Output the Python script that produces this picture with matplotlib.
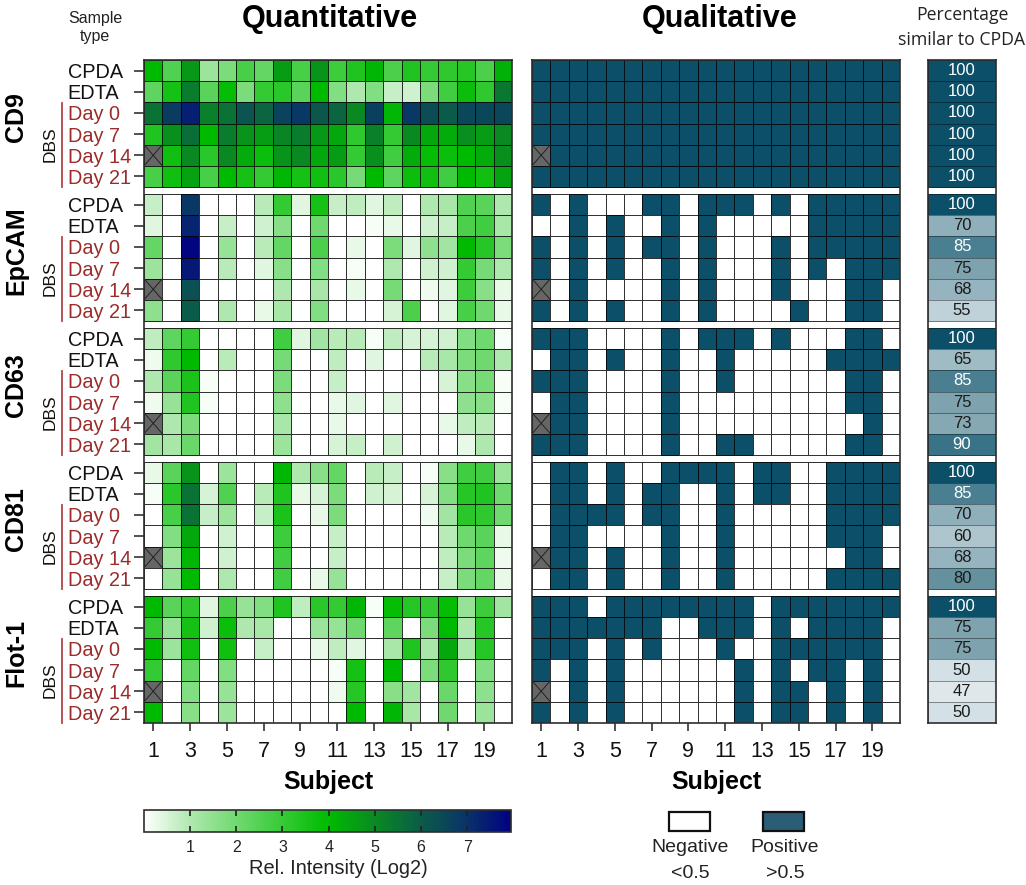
import numpy as np
import matplotlib
matplotlib.use("Agg")
import matplotlib.pyplot as plt
from matplotlib.cm import ScalarMappable
from matplotlib.colors import LinearSegmentedColormap, Normalize
from matplotlib.patches import Rectangle
from matplotlib.transforms import blended_transform_factory

plt.rcParams['font.family'] = ['Liberation Sans', 'DejaVu Sans']

nan = float('nan')
markers = ['CD9', 'EpCAM', 'CD63', 'CD81', 'Flot-1']
sample_labels = ['CPDA', 'EDTA', 'Day 0', 'Day 7', 'Day 14', 'Day 21']
subject_ticks = [1, 3, 5, 7, 9, 11, 13, 15, 17, 19]

cd9_quant = [
    [4.0, 2.5, 4.7, 1.3, 1.8, 2.7, 2.2, 4.6, 2.7, 4.8, 2.9, 3.4, 4.1, 2.6, 3.4, 3.0, 3.1, 3.3, 2.6, 4.2],
    [2.3, 3.6, 5.3, 2.4, 3.9, 1.8, 3.0, 3.2, 2.4, 4.0, 1.7, 1.0, 1.7, 0.7, 0.6, 1.8, 2.8, 3.8, 3.1, 5.4],
    [5.5, 6.8, 7.4, 5.2, 5.5, 6.2, 5.8, 6.6, 6.9, 6.1, 5.8, 5.0, 6.7, 4.1, 6.9, 6.4, 6.0, 6.5, 6.5, 6.5],
    [3.4, 4.9, 5.6, 4.0, 5.3, 4.8, 4.6, 5.1, 5.3, 4.7, 4.4, 3.1, 5.2, 3.0, 5.0, 4.4, 4.3, 4.9, 4.6, 5.0],
    [nan, 3.7, 5.0, 3.2, 5.0, 4.3, 3.8, 4.8, 5.0, 4.4, 4.6, 3.0, 4.9, 2.8, 4.3, 3.9, 3.8, 4.0, 4.3, 4.9],
    [2.7, 3.7, 4.5, 2.7, 4.0, 3.6, 3.0, 4.1, 3.6, 3.7, 3.2, 1.9, 4.0, 2.3, 3.8, 3.7, 2.8, 4.0, 3.7, 4.5],
]
epcam_quant = [
    [0.7, 0, 6.9, 0, 0, 0, 0.9, 3.0, 0.4, 3.6, 0.7, 0.8, 0.4, 0.8, 0, 1.0, 1.1, 2.5, 2.4, 1.0],
    [0.4, 0, 7.3, 0, 0.7, 0, 0.6, 1.6, 0, 2.0, 0, 0, 0.1, 0.3, 0, 0.6, 0.7, 2.6, 2.8, 1.1],
    [2.2, 0, 7.9, 0, 1.4, 0, 0.9, 2.2, 0, 2.6, 0, 0.3, 0, 1.8, 0.4, 1.5, 1.2, 4.0, 3.3, 1.8],
    [1.3, 0, 7.5, 0, 0.9, 0, 0.4, 1.6, 0, 1.7, 0, 0.1, 0, 1.0, 0, 0.6, 0.6, 3.0, 1.9, 1.0],
    [nan, 0, 6.3, 0, 0, 0, 0, 1.0, 0, 1.1, 0, 0.3, 0, 1.9, 0, 0.2, 0.4, 2.9, 1.6, 0.3],
    [1.5, 0, 6.0, 0, 1.0, 0, 0.3, 1.1, 0, 1.7, 0, 0, 0, 0.5, 2.6, 0, 0.4, 2.7, 2.0, 0.3],
]
cd63_quant = [
    [0.8, 2.3, 3.0, 0, 0, 0, 0, 2.8, 0.4, 1.2, 0.9, 0.9, 0.1, 0.8, 0.5, 0.5, 0.6, 1.7, 2.0, 0.1],
    [0.2, 3.1, 4.0, 0, 0.9, 0, 0, 1.9, 0, 0, 0.8, 0, 0.4, 0, 0, 0.9, 1.1, 1.8, 2.0, 1.0],
    [1.0, 2.4, 3.5, 0.1, 0, 0, 0, 1.8, 0, 0, 0.7, 0, 0, 0, 0, 0, 0.5, 1.6, 1.9, 0.1],
    [0.2, 1.4, 3.4, 0.1, 0, 0, 0, 1.5, 0, 0, 0.3, 0.4, 0, 0.4, 0, 0, 0, 1.5, 1.6, 0.1],
    [nan, 1.0, 1.8, 0, 0, 0, 0, 1.1, 0, 0, 0.3, 0, 0, 0, 0, 0, 0.3, 0.8, 0.9, 0],
    [1.2, 1.1, 2.1, 0, 0, 0, 0, 1.3, 0, 0, 0.5, 0.7, 0, 0.6, 0, 0, 0, 0.3, 1.0, 0],
]
cd81_quant = [
    [0.3, 2.4, 4.8, 0, 1.3, 0, 0, 4.1, 1.0, 1.6, 2.2, 0, 0.9, 0.7, 0, 0.1, 1.6, 2.8, 2.8, 1.3],
    [0.1, 3.2, 5.5, 0.5, 2.5, 0, 0.9, 3.4, 0.3, 0.5, 1.8, 0, 0.6, 0.5, 0, 0.5, 1.7, 3.3, 3.4, 2.0],
    [0, 2.7, 5.5, 0.7, 1.3, 0, 0.7, 3.5, 0, 0.3, 1.8, 0, 0, 0, 0, 0.2, 1.2, 3.2, 3.1, 2.0],
    [0, 1.7, 4.4, 0, 0.6, 0, 0, 2.9, 0, 0, 0.7, 0, 0, 0, 0, 0, 0.9, 2.0, 2.4, 0.3],
    [nan, 1.3, 4.1, 0, 0.6, 0, 0, 2.8, 0, 0, 0.7, 0, 0, 0, 0, 0, 0.8, 1.8, 2.3, 0.2],
    [0, 1.4, 4.0, 0, 1.0, 0, 0, 2.8, 0, 0.3, 1.4, 0, 0, 0, 0, 0, 0.7, 1.8, 2.2, 0.3],
]
flot1_quant = [
    [4.0, 2.4, 3.1, 0.4, 2.6, 1.4, 1.7, 3.4, 0.8, 3.2, 3.0, 4.1, 0.1, 3.9, 3.3, 3.0, 3.9, 1.4, 2.9, 1.2],
    [3.0, 1.4, 3.6, 0.6, 3.8, 1.0, 1.1, 0, 0, 1.3, 1.4, 2.0, 0, 2.3, 0, 1.8, 4.0, 1.0, 3.3, 0],
    [4.0, 1.3, 3.7, 0, 3.7, 0, 0.7, 0, 0, 0.3, 0.8, 0.4, 0, 1.1, 3.4, 1.1, 4.4, 1.0, 3.3, 0],
    [3.0, 0, 2.2, 0, 1.7, 0, 0, 0, 0, 0, 0.1, 3.6, 0, 4.0, 0, 1.8, 3.1, 0, 1.7, 0],
    [nan, 0, 1.7, 0, 1.4, 0, 0, 0, 0, 0, 0.2, 3.3, 0, 1.6, 1.2, 0, 2.1, 0, 1.5, 0],
    [4.0, 0, 1.6, 0, 1.3, 0, 0, 0, 0, 0, 0, 4.0, 0, 4.1, 1.1, 0, 2.0, 0, 1.3, 0],
]

cd9_qual = [
    [1] * 20, [1] * 20, [1] * 20, [1] * 20,
    [nan] + [1] * 19,
    [1] * 20,
]
epcam_qual = [
    [1, 0, 1, 0, 0, 0, 1, 1, 0, 1, 1, 1, 0, 1, 0, 1, 1, 1, 1, 1],
    [0, 0, 1, 0, 1, 0, 0, 1, 0, 1, 0, 0, 0, 0, 0, 1, 1, 1, 1, 1],
    [1, 0, 1, 0, 1, 0, 1, 1, 0, 1, 0, 0, 0, 1, 0, 1, 1, 1, 1, 1],
    [1, 0, 1, 0, 1, 0, 0, 1, 0, 1, 0, 0, 0, 1, 0, 1, 0, 1, 1, 1],
    [nan, 0, 1, 0, 0, 0, 0, 1, 0, 1, 0, 0, 0, 1, 0, 0, 0, 1, 1, 0],
    [1, 0, 1, 0, 1, 0, 0, 1, 0, 1, 0, 0, 0, 0, 1, 0, 0, 1, 1, 0],
]
cd63_qual = [
    [1, 1, 1, 0, 0, 0, 0, 1, 0, 1, 1, 1, 0, 1, 0, 0, 0, 1, 1, 0],
    [0, 1, 1, 0, 1, 0, 0, 1, 0, 0, 1, 0, 0, 0, 0, 0, 1, 1, 1, 1],
    [1, 1, 1, 0, 0, 0, 0, 1, 0, 0, 1, 0, 0, 0, 0, 0, 0, 1, 1, 0],
    [0, 1, 1, 0, 0, 0, 0, 1, 0, 0, 0, 0, 0, 0, 0, 0, 0, 1, 1, 0],
    [nan, 1, 1, 0, 0, 0, 0, 1, 0, 0, 0, 0, 0, 0, 0, 0, 0, 0, 1, 0],
    [1, 1, 1, 0, 0, 0, 0, 1, 0, 0, 1, 1, 0, 0, 0, 0, 0, 1, 1, 0],
]
cd81_qual = [
    [0, 1, 1, 0, 1, 0, 0, 1, 1, 1, 1, 0, 1, 1, 0, 0, 1, 1, 1, 1],
    [0, 1, 1, 0, 1, 0, 1, 1, 0, 0, 1, 0, 1, 1, 0, 0, 1, 1, 1, 1],
    [0, 1, 1, 1, 1, 0, 1, 1, 0, 0, 1, 0, 0, 0, 0, 0, 1, 1, 1, 1],
    [0, 1, 1, 0, 0, 0, 0, 1, 0, 0, 1, 0, 0, 0, 0, 0, 1, 1, 1, 0],
    [nan, 1, 1, 0, 1, 0, 0, 1, 0, 0, 1, 0, 0, 0, 0, 0, 0, 1, 1, 0],
    [0, 1, 1, 0, 1, 0, 0, 1, 0, 0, 1, 0, 0, 0, 0, 0, 1, 1, 1, 1],
]
flot1_qual = [
    [1, 1, 1, 0, 1, 1, 1, 1, 1, 1, 1, 1, 0, 1, 1, 1, 1, 1, 1, 1],
    [1, 1, 1, 1, 1, 1, 1, 0, 0, 1, 1, 1, 0, 1, 0, 1, 1, 1, 1, 0],
    [1, 1, 1, 0, 1, 0, 1, 0, 0, 0, 1, 0, 0, 1, 1, 1, 1, 1, 1, 0],
    [1, 0, 1, 0, 1, 0, 0, 0, 0, 0, 0, 1, 0, 1, 0, 1, 1, 0, 1, 0],
    [nan, 0, 1, 0, 1, 0, 0, 0, 0, 0, 0, 1, 0, 1, 1, 0, 1, 0, 1, 0],
    [1, 0, 1, 0, 1, 0, 0, 0, 0, 0, 0, 1, 0, 1, 1, 0, 1, 0, 1, 0],
]

cd9_pct = [100, 100, 100, 100, 100, 100]
epcam_pct = [100, 70, 85, 75, 68, 55]
cd63_pct = [100, 65, 85, 75, 73, 90]
cd81_pct = [100, 85, 70, 60, 68, 80]
flot1_pct = [100, 75, 75, 50, 47, 50]

quant_blocks = [cd9_quant, epcam_quant, cd63_quant, cd81_quant, flot1_quant]
qual_blocks = [cd9_qual, epcam_qual, cd63_qual, cd81_qual, flot1_qual]
pct_blocks = [cd9_pct, epcam_pct, cd63_pct, cd81_pct, flot1_pct]

# ---- layout (pixels) ----
W, H = 1026, 885
GAP = 0.33
PERIOD = 6 + GAP
TOTAL = 5 * 6 + 4 * GAP
TEAL = '#0c4f68'
GRID = (0, 0, 0, 0.8)
RED = '#9c2b2b'

fig = plt.figure(figsize=(W / 100, H / 100), dpi=100)


def pax(x0, y0, x1, y1):
    return fig.add_axes([x0 / W, 1 - y1 / H, (x1 - x0) / W, (y1 - y0) / H])


def ftext(x, y, s, **kw):
    kw.setdefault('ha', 'center')
    kw.setdefault('va', 'center')
    return fig.text(x / W, 1 - y / H, s, **kw)


quant_cmap = LinearSegmentedColormap.from_list('quant', [
    (0.0, '#ffffff'), (1 / 8, '#aee8ae'), (2 / 8, '#6fd96f'), (3 / 8, '#35ca35'),
    (4 / 8, '#00bb00'), (5 / 8, '#0a8a22'), (6 / 8, '#0b5c48'), (7 / 8, '#0a3468'),
    (1.0, '#000082')])
quant_cmap.set_bad('#666666')
quant_norm = Normalize(0, 8)

qual_cmap = LinearSegmentedColormap.from_list('qual', ['#ffffff', TEAL])
qual_cmap.set_bad('#666666')

pct_levels = [40, 47, 50, 55, 60, 70, 75, 85, 90, 100]
pct_colors = ['#eef3f5', '#dfe7eb', '#d3e0e5', '#c0d2d9', '#aec5cd',
              '#8fb0bb', '#7fa3ae', '#4a7f90', '#3a7388', TEAL]
pct_cmap = LinearSegmentedColormap.from_list(
    'pct', [((v - 40) / 60, c) for v, c in zip(pct_levels, pct_colors)])
pct_norm = Normalize(40, 100)


def frame(ax):
    ax.set_ylim(TOTAL, 0)
    for s in ax.spines.values():
        s.set_linewidth(1.2)
        s.set_color('#2e2e2e')


def heat_panel(ax, blocks, cmap, norm):
    for b, rows in enumerate(blocks):
        data = np.array(rows, dtype=float)
        ny, nx = data.shape
        xe = np.arange(nx + 1) + 0.5
        ye = np.arange(ny + 1) + b * PERIOD
        ax.pcolormesh(xe, ye, np.ma.masked_invalid(data), cmap=cmap, norm=norm,
                      edgecolors=[GRID], linewidth=0.7)
        for r, c in np.argwhere(np.isnan(data)):
            ax.plot([c + 0.5, c + 1.5], [r + b * PERIOD, r + 1 + b * PERIOD],
                    color='#222222', lw=0.7)
            ax.plot([c + 0.5, c + 1.5], [r + 1 + b * PERIOD, r + b * PERIOD],
                    color='#222222', lw=0.7)
    ax.set_xlim(0.5, 20.5)
    frame(ax)
    ax.set_xticks(subject_ticks)
    ax.tick_params(axis='x', length=6, width=1.2, color='#333333', pad=7,
                   labelsize=15.5, labelcolor='#111111')
    ax.set_xlabel('Subject', fontsize=18, fontweight='bold', labelpad=6)


# ---- quantitative ----
ax_q = pax(144, 60, 512, 723)
heat_panel(ax_q, quant_blocks, quant_cmap, quant_norm)
centers = [b * PERIOD + r + 0.5 for b in range(5) for r in range(6)]
ax_q.set_yticks(centers)
ax_q.set_yticklabels(sample_labels * 5)
ax_q.tick_params(axis='y', length=7, width=1.2, color='#333333', pad=48, labelsize=14.3)
for i, lab in enumerate(ax_q.get_yticklabels()):
    lab.set_ha('left')
    lab.set_color(RED if i % 6 >= 2 else '#111111')

# marker names, DBS text, red brackets
tr = blended_transform_factory(fig.transFigure, ax_q.transData)
for b, name in enumerate(markers):
    y0 = b * PERIOD
    ax_q.text(16 / W, y0 + 2.7, name, transform=tr, rotation=90, ha='center', va='center',
              fontsize=18, fontweight='bold', color='black')
    ax_q.text(50 / W, y0 + 4.0, 'DBS', transform=tr, rotation=90, ha='center', va='center',
              fontsize=12.5, color='#111111')
    ax_q.plot([62 / W, 62 / W], [y0 + 2.05, y0 + 6.0], transform=tr, color='#b04545',
              lw=1.3, clip_on=False)

# ---- qualitative ----
ax_b = pax(532, 60, 900, 723)
heat_panel(ax_b, qual_blocks, qual_cmap, Normalize(0, 1))
ax_b.set_yticks([])

# ---- percentage column ----
ax_p = pax(928, 60, 996, 723)
for b, vals in enumerate(pct_blocks):
    arr = np.array(vals, dtype=float).reshape(-1, 1)
    ye = np.arange(7) + b * PERIOD
    ax_p.pcolormesh([0, 1], ye, arr, cmap=pct_cmap, norm=pct_norm,
                    edgecolors=[(0, 0, 0, 0.4)], linewidth=0.6)
    for r, v in enumerate(vals):
        ax_p.text(0.5, b * PERIOD + r + 0.5, str(v), ha='center', va='center', fontsize=12,
                  color='white' if v >= 85 else '#1a1a1a')
ax_p.set_xlim(0, 1)
frame(ax_p)
ax_p.set_xticks([])
ax_p.set_yticks([])

# ---- headers ----
ftext(330, 19, 'Quantitative', fontsize=22, fontweight='bold')
ftext(720, 19, 'Qualitative', fontsize=22, fontweight='bold')
ftext(95, 18, 'Sample', fontsize=11.5, color='#222222')
ftext(95, 37, 'type', fontsize=11.5, color='#222222')
ftext(962, 15, 'Percentage', fontsize=12.7, family=['Open Sans', 'DejaVu Sans'], color='#222222')
ftext(961, 40, 'similar to CPDA', fontsize=12.7, family=['Open Sans', 'DejaVu Sans'], color='#222222')

# ---- colour bar ----
cax = pax(144, 810, 511, 832)
cb = fig.colorbar(ScalarMappable(norm=Normalize(0, 7.95), cmap=LinearSegmentedColormap.from_list(
    'cb', [quant_cmap(quant_norm(v)) for v in np.linspace(0, 7.95, 64)])),
    cax=cax, orientation='horizontal')
cb.set_ticks([1, 2, 3, 4, 5, 6, 7])
cax.tick_params(axis='x', direction='in', top=True, bottom=True, length=4, width=1.2,
                color='#222222', labelsize=11.5, labelcolor='#222222', pad=6)
cb.outline.set_linewidth(1.2)
cb.outline.set_edgecolor('#2e2e2e')
ftext(338, 868, 'Rel. Intensity (Log2)', fontsize=14.4, color='#222222')

# ---- qualitative key ----
key_ax = pax(0, 0, W, H)
key_ax.set_xlim(0, W)
key_ax.set_ylim(H, 0)
key_ax.axis('off')
key_ax.patch.set_alpha(0)
key_ax.add_patch(Rectangle((669, 812), 41, 19, fc='white', ec='#111111', lw=1.6))
key_ax.add_patch(Rectangle((763, 812), 41, 19, fc='#2b5d75', ec='#111111', lw=1.6))
ftext(690, 848, 'Negative', fontsize=14, color='#222222')
ftext(690, 873, '<0.5', fontsize=14, color='#222222')
ftext(785, 848, 'Positive', fontsize=14, color='#222222')
ftext(785, 873, '>0.5', fontsize=14, color='#222222')

fig.savefig('out.png', dpi=100)
